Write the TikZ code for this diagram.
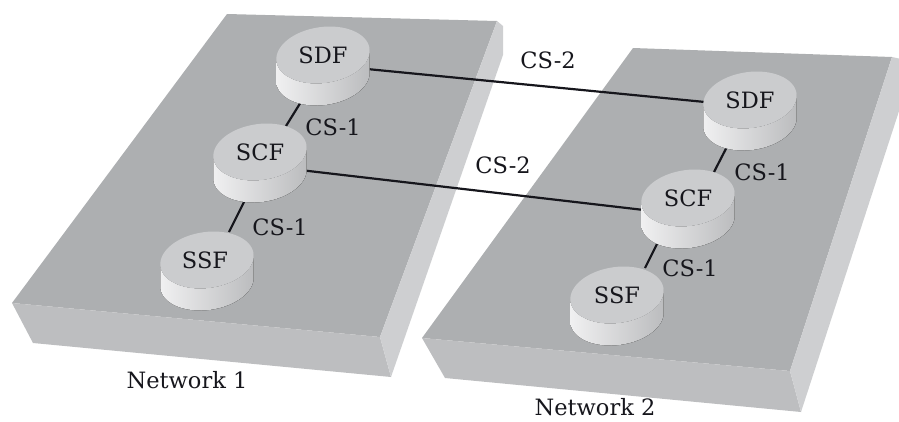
\documentclass[tikz,border=0pt]{standalone}
\usepackage{fontspec}
\setmainfont{DejaVu Serif}
\usetikzlibrary{calc,shapes.geometric}
\definecolor{topface}{RGB}{173,175,177}
\definecolor{frontface}{RGB}{189,190,192}
\definecolor{sideface}{RGB}{206,207,209}
\definecolor{cyltop}{RGB}{203,204,206}
\definecolor{wallL}{RGB}{240,240,241}
\definecolor{wallM}{RGB}{228,228,230}
\definecolor{wallR}{RGB}{186,187,189}
\definecolor{ink}{RGB}{22,22,28}
\pgfdeclarelayer{slabs}
\pgfdeclarelayer{links}
\pgfdeclarelayer{cyls}
\pgfsetlayers{slabs,links,cyls,main}
\newcommand\cylbody[1]{%
  \begin{pgfonlayer}{cyls}
  \begin{scope}[shift={#1}, rotate=8]
    \fill[left color=wallL, middle color=wallM, right color=wallR]
      (-47,0) -- (-50.1,-21.8)
      arc[start angle=180, end angle=360, x radius=47, y radius=28]
      -- (47,0)
      arc[start angle=0, end angle=-180, x radius=47, y radius=28] -- cycle;
    \fill[cyltop] (0,0) ellipse [x radius=47, y radius=28];
  \end{scope}
  \end{pgfonlayer}}
\tikzset{
  fn/.style={shape=ellipse, minimum width=94pt, minimum height=56pt, inner sep=0pt,
    font=\fontsize{22.5}{26}\selectfont, text=ink},
  lbl/.style={font=\fontsize{22.5}{26}\selectfont, text=ink, inner sep=0pt},
  conn/.style={draw=ink, line width=2.2pt}
}
\begin{document}
\begin{tikzpicture}[x=1pt,y=1pt]
\useasboundingbox (0,0) rectangle (899,-421);
\clip (0,0) rectangle (899,-421);
\begin{pgfonlayer}{slabs}
% Network 1 slab
\fill[topface] (227,-14) -- (497,-21) -- (380,-337) -- (12,-303) -- cycle;
\fill[frontface] (12,-303) -- (380,-337) -- (391,-377) -- (33,-343) -- cycle;
\fill[sideface] (497,-21) -- (503,-26) -- (503,-55) -- (391,-377) -- (380,-337) -- cycle;
% Network 2 slab
\fill[topface] (633,-48) -- (892,-57) -- (790,-371) -- (422,-338) -- cycle;
\fill[frontface] (422,-338) -- (790,-371) -- (801,-412) -- (445,-378) -- cycle;
\fill[sideface] (892,-57) -- (915,-62) -- (801,-412) -- (790,-371) -- cycle;
\end{pgfonlayer}
% cylinders
\cylbody{(323,-55)}
\cylbody{(260,-152)}
\cylbody{(207,-260)}
\cylbody{(750,-100)}
\cylbody{(688,-198)}
\cylbody{(617,-295)}
% nodes
\node[fn] (sdf1) at (323,-55) {SDF};
\node[fn] (scf1) at (260,-152) {SCF};
\node[fn] (ssf1) at (205,-260) {SSF};
\node[fn] (sdf2) at (750,-100) {SDF};
\node[fn] (scf2) at (688,-198) {SCF};
\node[fn] (ssf2) at (617,-295) {SSF};
% connectors
\begin{pgfonlayer}{links}
\draw[conn] ($(sdf1.center)+(-14,-34)$) -- ($(scf1.center)+(26,26)$);
\draw[conn] ($(scf1.center)+(-9,-36)$) -- ($(ssf1.center)+(24,28)$);
\draw[conn] ($(sdf1.center)+(44,-14)$) -- ($(sdf2.center)+(-45,-2)$);
\draw[conn] ($(scf1.center)+(40,-18)$) -- ($(scf2.center)+(-44,-12)$);
\draw[conn] ($(sdf2.center)+(-17,-35)$) -- ($(scf2.center)+(26,26)$);
\draw[conn] ($(scf2.center)+(-27,-38)$) -- ($(ssf2.center)+(28,27)$);
\end{pgfonlayer}
% labels
\node[lbl] (l1) at (333,-127) {CS-1};
\node[lbl] (l2) at (280,-227) {CS-1};
\node[lbl] (l3) at (548,-60) {CS-2};
\node[lbl] (l4) at (503,-165) {CS-2};
\node[lbl] (l5) at (762,-172) {CS-1};
\node[lbl] (l6) at (690,-268) {CS-1};
\node[lbl] (n1) at (187,-380) {Network 1};
\node[lbl] (n2) at (595,-407) {Network 2};
\end{tikzpicture}
\end{document}
